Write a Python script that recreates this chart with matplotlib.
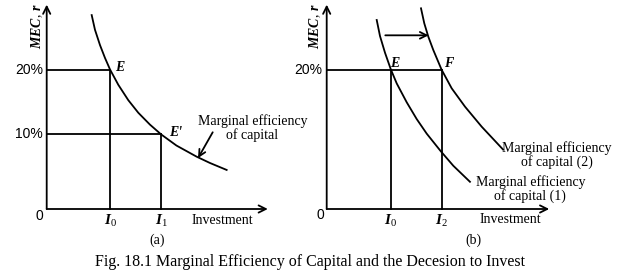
"""
Fig. 18.1 MEC 与投资决策示意图
"""
import matplotlib
matplotlib.use('Agg')
import matplotlib.pyplot as plt

plt.rcParams['font.family'] = ['Liberation Serif', 'DejaVu Serif']
plt.rcParams['mathtext.fontset'] = 'custom'
plt.rcParams['mathtext.it'] = 'Liberation Serif:italic:bold'
plt.rcParams['mathtext.rm'] = 'Liberation Serif'
plt.rcParams['mathtext.bf'] = 'Liberation Serif:bold'

# ── 数据（读图估计，x 为投资量，y 为 MEC %） ──
# 图 (a)
mec_a_x = [6.45, 6.92, 7.64, 8.36, 9.08, 10.27, 11.70, 13.13, 14.8, 16.4, 18.6, 21.5, 23.4, 25.8]
mec_a_y = [27.8, 25.7, 23.5, 21.65, 20.0, 17.8, 15.6, 13.8, 12.1, 10.7, 9.1, 7.5, 6.6, 5.6]
rate_levels_a = [20, 10.7]
rate_labels_a = ['20%', '10%']
inv_a = [9.08, 16.4]
inv_labels_a = ['$I_0$', '$I_1$']

# 图 (b)
mec1_x = [7.17, 7.64, 8.36, 9.2, 10.04, 11.47, 12.9, 14.34, 16.34, 18.15, 20.54]
mec1_y = [27.1, 24.8, 22.4, 20.0, 18.0, 15.3, 12.9, 10.8, 8.3, 6.2, 3.9]
mec2_x = [13.52, 13.99, 14.57, 15.28, 16.46, 17.92, 19.83, 22.22, 25.28]
mec2_y = [28.77, 26.62, 24.7, 22.8, 20.0, 17.3, 14.67, 11.8, 8.53]
rate_level_b = 20
inv_b = [9.2, 16.46]
inv_labels_b = ['$I_0$', '$I_2$']

PX = 6.975  # 每单位对应像素
LW = 1.3
SANS = 'Liberation Sans'

fig = plt.figure(figsize=(6.24, 2.76), dpi=100)
fig.patch.set_facecolor('white')


def make_axes(left_frac, origin_px):
    ax = fig.add_axes([left_frac, 0, 0.5, 1])
    ax.set_xlim(-(origin_px - left_frac * 624) / PX,
                (left_frac * 624 + 312 - origin_px) / PX)
    ax.set_ylim(-(276 - 209) / PX, 209 / PX)
    ax.axis('off')
    return ax


def draw_axes(ax, xmax, ymax):
    arrow = dict(arrowstyle='->', lw=LW, color='black', shrinkA=0, shrinkB=0,
                 mutation_scale=13)
    ax.annotate('', xy=(xmax, 0), xytext=(0, 0), arrowprops=arrow)
    ax.annotate('', xy=(0, ymax), xytext=(0, 0), arrowprops=arrow)


def mec_label(ax, x, y):
    ax.text(x, y, '$MEC,\\, r$', rotation=90, ha='center', va='top', fontsize=10)


def point_label(ax, x, y, s):
    ax.text(x, y, s, ha='center', va='center', fontsize=10,
            fontstyle='italic', fontweight='bold')


# ── (a) ──
ax = make_axes(0, 46.7)
draw_axes(ax, 31.7, 29.3)
mec_label(ax, -1.4, 29.5)
ax.plot(mec_a_x, mec_a_y, color='black', lw=LW, solid_joinstyle='round')
for inv, lev in zip(inv_a, rate_levels_a):
    ax.plot([0, inv], [lev, lev], color='black', lw=LW)
    ax.plot([inv, inv], [0, lev], color='black', lw=LW)
for lev, lab in zip(rate_levels_a, rate_labels_a):
    ax.text(-0.5, lev, lab, ha='right', va='center', fontsize=10, family=SANS)
ax.text(-1.0, -1.0, '0', ha='center', va='center', fontsize=10, family=SANS)
for inv, lab in zip(inv_a, inv_labels_a):
    ax.text(inv, -1.7, lab, ha='center', va='center', fontsize=11)
ax.text(25.2, -1.6, 'Investment', ha='center', va='center', fontsize=10)
ax.text(15.8, -4.45, '(a)', ha='center', va='center', fontsize=10)
point_label(ax, 10.4, 20.3, 'E')
point_label(ax, 18.5, 11.0, "E'")
ax.text(29.5, 11.6, 'Marginal efficiency\nof capital', ha='center', va='center',
        fontsize=10, linespacing=1.05)
ax.annotate('', xy=(21.7, 7.3), xytext=(23.8, 11.0),
            arrowprops=dict(arrowstyle='->', lw=LW, color='black',
                            shrinkA=0, shrinkB=0, mutation_scale=12))

# ── (b) ──
ax = make_axes(0.5, 326.7)
draw_axes(ax, 31.9, 29.3)
mec_label(ax, -1.7, 29.5)
ax.plot(mec1_x, mec1_y, color='black', lw=LW, solid_joinstyle='round')
ax.plot(mec2_x, mec2_y, color='black', lw=LW, solid_joinstyle='round')
ax.plot([0, inv_b[1]], [rate_level_b, rate_level_b], color='black', lw=LW)
for inv in inv_b:
    ax.plot([inv, inv], [0, rate_level_b], color='black', lw=LW)
ax.text(-0.6, rate_level_b, '20%', ha='right', va='center', fontsize=10, family=SANS)
ax.text(-0.86, -0.9, '0', ha='center', va='center', fontsize=10, family=SANS)
for inv, lab in zip(inv_b, inv_labels_b):
    ax.text(inv, -1.7, lab, ha='center', va='center', fontsize=11)
ax.text(26.3, -1.45, 'Investment', ha='center', va='center', fontsize=10)
ax.text(21.0, -4.45, '(b)', ha='center', va='center', fontsize=10)
point_label(ax, 9.8, 20.9, 'E')
point_label(ax, 17.5, 20.9, 'F')
ax.annotate('', xy=(14.6, 24.9), xytext=(8.4, 24.9),
            arrowprops=dict(arrowstyle='->', lw=LW, color='black',
                            shrinkA=0, shrinkB=0, mutation_scale=12))
ax.text(33.0, 7.74, 'Marginal efficiency\nof capital (2)', ha='center', va='center',
        fontsize=10, linespacing=1.05)
ax.text(29.2, 2.87, 'Marginal efficiency\nof capital (1)', ha='center', va='center',
        fontsize=10, linespacing=1.05)

fig.text(310 / 624, 1 - 262 / 276,
         'Fig. 18.1 Marginal Efficiency of Capital and the Decesion to Invest',
         ha='center', va='center', fontsize=11.5)

fig.savefig('out.png', dpi=100, facecolor='white')
